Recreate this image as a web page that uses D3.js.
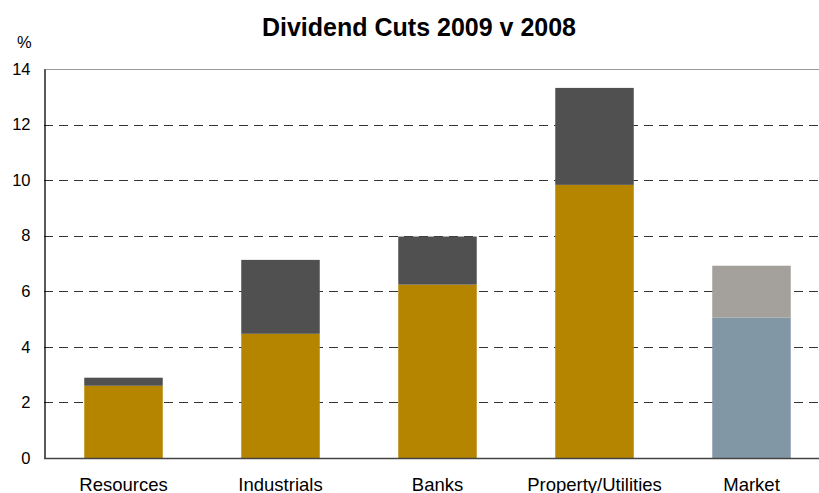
<!DOCTYPE html>
<html>
<head>
<meta charset="utf-8">
<script src="https://cdn.jsdelivr.net/npm/d3@7"></script>
<style>
  body { margin: 0; background: #fff; }
  text { font-family: "Liberation Sans", Arial, sans-serif; }
</style>
</head>
<body>
<div id="chart"></div>
<script>
const CATEGORIES = ["Resources", "Industrials", "Banks", "Property/Utilities", "Market"];
const LOWER = [2.6, 4.47, 6.24, 9.83, 5.05];
const UPPER = [0.29, 2.66, 1.73, 3.49, 1.87];
const Y_TICKS = [0, 2, 4, 6, 8, 10, 12, 14];

const WIDTH = 819;
const HEIGHT = 493;
const LEFT = 44;
const TOP = 69;
const BOTTOM = 458;

const lowerColor = (d, i) => i === 4 ? "#8297a6" : "#b58500";
const upperColor = (d, i) => i === 4 ? "#a4a19c" : "#505050";

const svg = d3.select("#chart").append("svg")
    .attr("width", WIDTH)
    .attr("height", HEIGHT);

const x = d3.scaleBand()
    .domain(CATEGORIES)
    .range([45, 830])
    .paddingInner(0.5)
    .paddingOuter(0.25);

const y = d3.scaleLinear()
    .domain([0, 14])
    .range([BOTTOM, TOP]);

// gridlines
svg.append("g")
   .selectAll("line")
   .data(Y_TICKS.filter(t => t > 0 && t < 14))
   .enter()
   .append("line")
   .attr("x1", LEFT)
   .attr("x2", WIDTH)
   .attr("y1", d => Math.round(y(d)) + 0.5)
   .attr("y2", d => Math.round(y(d)) + 0.5)
   .attr("stroke", "#333")
   .attr("stroke-width", 1)
   .attr("stroke-dasharray", "9,6");

svg.append("line")
   .attr("x1", LEFT).attr("x2", WIDTH)
   .attr("y1", Math.round(y(14)) + 0.5).attr("y2", Math.round(y(14)) + 0.5)
   .attr("stroke", "#999");

// bars
const bars = CATEGORIES.map((c, i) => ({ cat: c, lo: LOWER[i], hi: LOWER[i] + UPPER[i] }));

svg.append("g").selectAll("rect")
   .data(bars)
   .enter()
   .append("rect")
   .attr("x", d => x(d.cat))
   .attr("width", x.bandwidth())
   .attr("y", d => y(d.lo))
   .attr("height", d => y(0) - y(d.lo))
   .attr("fill", lowerColor);

svg.append("g").selectAll("rect")
   .data(bars)
   .enter()
   .append("rect")
   .attr("x", d => x(d.cat))
   .attr("width", x.bandwidth())
   .attr("y", d => y(d.hi))
   .attr("height", d => y(d.lo) - y(d.hi))
   .attr("fill", upperColor);

// axes
const yAxis = d3.axisLeft(y).tickValues(Y_TICKS).tickSize(0).tickPadding(14);
svg.append("g")
   .attr("transform", "translate(" + (LEFT + 0.5) + ",0)")
   .call(yAxis)
   .call(g => g.select(".domain").attr("stroke", "#000").attr("stroke-width", 1.3))
   .call(g => g.selectAll("text").attr("font-size", "16.5px").attr("fill", "#000")
       .attr("font-family", "Liberation Sans, Arial, sans-serif"));

const xAxis = d3.axisBottom(x).tickSize(0);
svg.append("g")
   .attr("transform", "translate(0," + (BOTTOM + 0.5) + ")")
   .call(xAxis)
   .call(g => g.select(".domain").remove())
   .call(g => g.selectAll("text").attr("font-size", "18.5px").attr("fill", "#000")
       .attr("dy", null).attr("y", 32)
       .attr("font-family", "Liberation Sans, Arial, sans-serif"));

svg.append("line")
   .attr("x1", LEFT).attr("x2", WIDTH)
   .attr("y1", BOTTOM + 0.5).attr("y2", BOTTOM + 0.5)
   .attr("stroke", "#444").attr("stroke-width", 1.3);

// title + unit
svg.append("text")
   .attr("x", 419)
   .attr("y", 36)
   .attr("text-anchor", "middle")
   .attr("font-size", "25px")
   .attr("font-weight", "bold")
   .text("Dividend Cuts 2009 v 2008");

svg.append("text")
   .attr("x", 17)
   .attr("y", 48)
   .attr("font-size", "16.5px")
   .text("%");
</script>
</body>
</html>
